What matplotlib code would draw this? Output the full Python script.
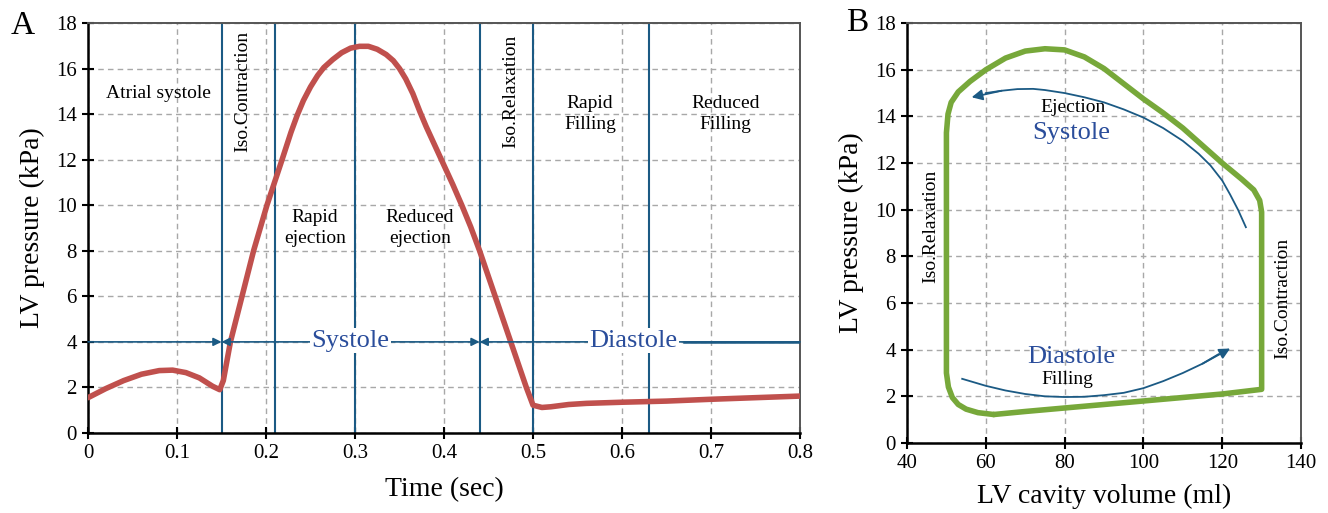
import matplotlib
matplotlib.use('Agg')
import matplotlib.pyplot as plt
import numpy as np

plt.rcParams['font.family'] = ['Liberation Serif', 'DejaVu Serif']

# Panel A: LV pressure over one cardiac cycle
time_s = [0, 0.02, 0.04, 0.06, 0.08, 0.095, 0.11, 0.125, 0.14, 0.148, 0.152, 0.16,
          0.173, 0.186, 0.201, 0.218, 0.228, 0.235, 0.242, 0.25, 0.258, 0.265, 0.275,
          0.285, 0.295, 0.305, 0.315, 0.325, 0.335, 0.343, 0.35, 0.357, 0.365, 0.373,
          0.38, 0.39, 0.40, 0.41, 0.42, 0.43, 0.44, 0.4575, 0.475, 0.4925, 0.5, 0.51,
          0.52, 0.54, 0.56, 0.6, 0.65, 0.7, 0.75, 0.8]
pressure_a = [1.55, 1.95, 2.3, 2.58, 2.74, 2.76, 2.65, 2.42, 2.05, 1.9, 2.3, 4.0,
              6.0, 8.0, 10.0, 12.0, 13.2, 13.95, 14.6, 15.2, 15.7, 16.05, 16.4,
              16.7, 16.9, 16.98, 16.98, 16.85, 16.62, 16.35, 16.0, 15.55, 14.9, 14.1,
              13.45, 12.6, 11.75, 10.9, 10.0, 9.05, 8.0, 6.0, 4.0, 2.0, 1.22, 1.12,
              1.15, 1.25, 1.3, 1.35, 1.4, 1.48, 1.55, 1.62]
phase_bounds = [0.15, 0.21, 0.30, 0.44, 0.50, 0.63]
phase_labels = ['Atrial systole', 'Iso.Contraction', 'Rapid\nejection', 'Reduced\nejection',
                'Iso.Relaxation', 'Rapid\nFilling', 'Reduced\nFilling']
phase_label_x = [0.079, 0.174, 0.255, 0.373, 0.475, 0.564, 0.716]
phase_label_y = [14.9, 15.0, 9.0, 9.0, 15.0, 14.0, 14.0]
phase_label_rot = [0, 90, 0, 0, 90, 0, 0]

# Panel B: pressure-volume loop
volume = [62, 70, 80, 90, 100, 110, 120, 130, 130, 130, 129.5, 128, 125, 120, 115, 110,
          105, 100, 95, 90, 85, 80, 75, 70, 65, 60, 56, 53, 51.2, 50.4, 50, 50, 50,
          50.5, 51.5, 53, 55, 58, 62]
pressure_b = [1.22, 1.35, 1.5, 1.65, 1.8, 1.95, 2.1, 2.3, 6.0, 9.9, 10.4, 10.85, 11.3, 12.0,
              12.75, 13.5, 14.15, 14.75, 15.4, 16.05, 16.55, 16.85, 16.9, 16.8, 16.5, 16.0,
              15.5, 15.05, 14.6, 14.1, 13.3, 8.0, 3.0, 2.4, 1.95, 1.65, 1.45, 1.3, 1.22]
eject_v = [126, 124, 122, 120, 117, 114, 110, 105, 100, 95, 90, 85, 80, 75, 72, 68, 64, 60, 56.4]
eject_p = [9.25, 10.0, 10.65, 11.25, 11.9, 12.4, 12.95, 13.5, 13.95, 14.3, 14.6, 14.82,
           15.0, 15.13, 15.18, 15.17, 15.1, 15.0, 14.82]
fill_v = [54, 60, 65, 70, 75, 80, 85, 90, 95, 100, 105, 110, 115, 119, 122]
fill_p = [2.75, 2.45, 2.25, 2.1, 2.0, 1.97, 1.98, 2.05, 2.15, 2.35, 2.65, 3.0, 3.4, 3.8, 4.05]

RED = '#c0504d'
GREEN = '#77a83a'
LINE_BLUE = '#1b5a84'
TEXT_BLUE = '#2a4d9b'


def style_axes(ax):
    ax.grid(True, linestyle=(0, (4, 3)), color='#a8a8a8', linewidth=1)
    ax.set_axisbelow(True)
    for s in ['left', 'bottom']:
        ax.spines[s].set_linewidth(1.8)
        ax.spines[s].set_color('black')
    for s in ['top', 'right']:
        ax.spines[s].set_linewidth(1.4)
        ax.spines[s].set_color('#555555')
    ax.tick_params(direction='inout', length=8, width=1.5, labelsize=15, pad=4)


fig = plt.figure(figsize=(13.28, 5.13), dpi=100)

# ---- Panel A ----
ax1 = fig.add_axes([0.0663, 0.156, 0.5361, 0.799])
style_axes(ax1)
ax1.set_xlim(0, 0.8)
ax1.set_ylim(0, 18)
ax1.set_xticks(np.arange(0, 0.81, 0.1))
ax1.set_xticklabels(['0', '0.1', '0.2', '0.3', '0.4', '0.5', '0.6', '0.7', '0.8'])
ax1.set_yticks(np.arange(0, 19, 2))

for xb in phase_bounds:
    ax1.axvline(xb, color=LINE_BLUE, linewidth=1.5, zorder=2)

ax1.plot(time_s, pressure_a, color=RED, linewidth=4, solid_capstyle='round',
         solid_joinstyle='round', zorder=3)

for lab, lx, ly, rot in zip(phase_labels, phase_label_x, phase_label_y, phase_label_rot):
    ax1.text(lx, ly, lab, fontsize=14, rotation=rot, ha='center', va='center',
             linespacing=1.35, zorder=4)

# systole / diastole arrows at 4 kPa
arr = dict(color=LINE_BLUE, lw=1.2, shrinkA=0, shrinkB=0, mutation_scale=12)
ax1.annotate('', xy=(0.15, 4), xytext=(0, 4), arrowprops=dict(arrowstyle='-|>', **arr), zorder=4)
ax1.annotate('', xy=(0.44, 4), xytext=(0.15, 4), arrowprops=dict(arrowstyle='<|-|>', **arr), zorder=4)
ax1.annotate('', xy=(0.44, 4), xytext=(0.8, 4), arrowprops=dict(arrowstyle='-|>', **arr), zorder=4)
ax1.plot([0.67, 0.8], [4, 4], color=LINE_BLUE, linewidth=1.8, zorder=4)
ax1.text(0.295, 4.05, 'Systole', fontsize=19, color=TEXT_BLUE, ha='center', va='center',
         bbox=dict(facecolor='white', edgecolor='none', pad=1), zorder=5)
ax1.text(0.613, 4.05, 'Diastole', fontsize=19, color=TEXT_BLUE, ha='center', va='center',
         bbox=dict(facecolor='white', edgecolor='none', pad=1), zorder=5)

ax1.set_xlabel('Time (sec)', fontsize=20, labelpad=10)
ax1.set_ylabel('LV pressure (kPa)', fontsize=20, labelpad=8)
fig.text(0.008, 0.95, 'A', fontsize=24, va='center')

# ---- Panel B ----
ax2 = fig.add_axes([0.683, 0.1365, 0.2967, 0.8185])
style_axes(ax2)
ax2.set_xlim(40, 140)
ax2.set_ylim(0, 18)
ax2.set_xticks(np.arange(40, 141, 20))
ax2.set_yticks(np.arange(0, 19, 2))

ax2.plot(volume, pressure_b, color=GREEN, linewidth=4, solid_capstyle='round',
         solid_joinstyle='round', zorder=3)

ax2.plot(eject_v[:-1], eject_p[:-1], color=LINE_BLUE, linewidth=1.3, zorder=4)
ax2.annotate('', xy=(eject_v[-1], eject_p[-1]), xytext=(eject_v[-3], eject_p[-3]),
             arrowprops=dict(arrowstyle='-|>', color=LINE_BLUE, lw=1.3,
                             shrinkA=0, shrinkB=0, mutation_scale=16), zorder=4)
ax2.plot(fill_v[:-1], fill_p[:-1], color=LINE_BLUE, linewidth=1.3, zorder=4)
ax2.annotate('', xy=(fill_v[-1], fill_p[-1]), xytext=(fill_v[-3], fill_p[-3]),
             arrowprops=dict(arrowstyle='-|>', color=LINE_BLUE, lw=1.3,
                             shrinkA=0, shrinkB=0, mutation_scale=16), zorder=4)

ax2.text(82.2, 14.4, 'Ejection', fontsize=14, ha='center', va='center', zorder=5)
ax2.text(81.8, 13.3, 'Systole', fontsize=19, color=TEXT_BLUE, ha='center', va='center', zorder=5)
ax2.text(81.8, 3.7, 'Diastole', fontsize=19, color=TEXT_BLUE, ha='center', va='center', zorder=5)
ax2.text(80.6, 2.7, 'Filling', fontsize=14, ha='center', va='center', zorder=5)
ax2.text(46.1, 9.3, 'Iso.Relaxation', fontsize=14, rotation=90, ha='center', va='center')
ax2.text(135.4, 6.2, 'Iso.Contraction', fontsize=14, rotation=90, ha='center', va='center')

ax2.set_xlabel('LV cavity volume (ml)', fontsize=20, labelpad=8)
ax2.set_ylabel('LV pressure (kPa)', fontsize=20, labelpad=8)
fig.text(0.637, 0.955, 'B', fontsize=24, va='center')

fig.savefig('out.png', dpi=100)
